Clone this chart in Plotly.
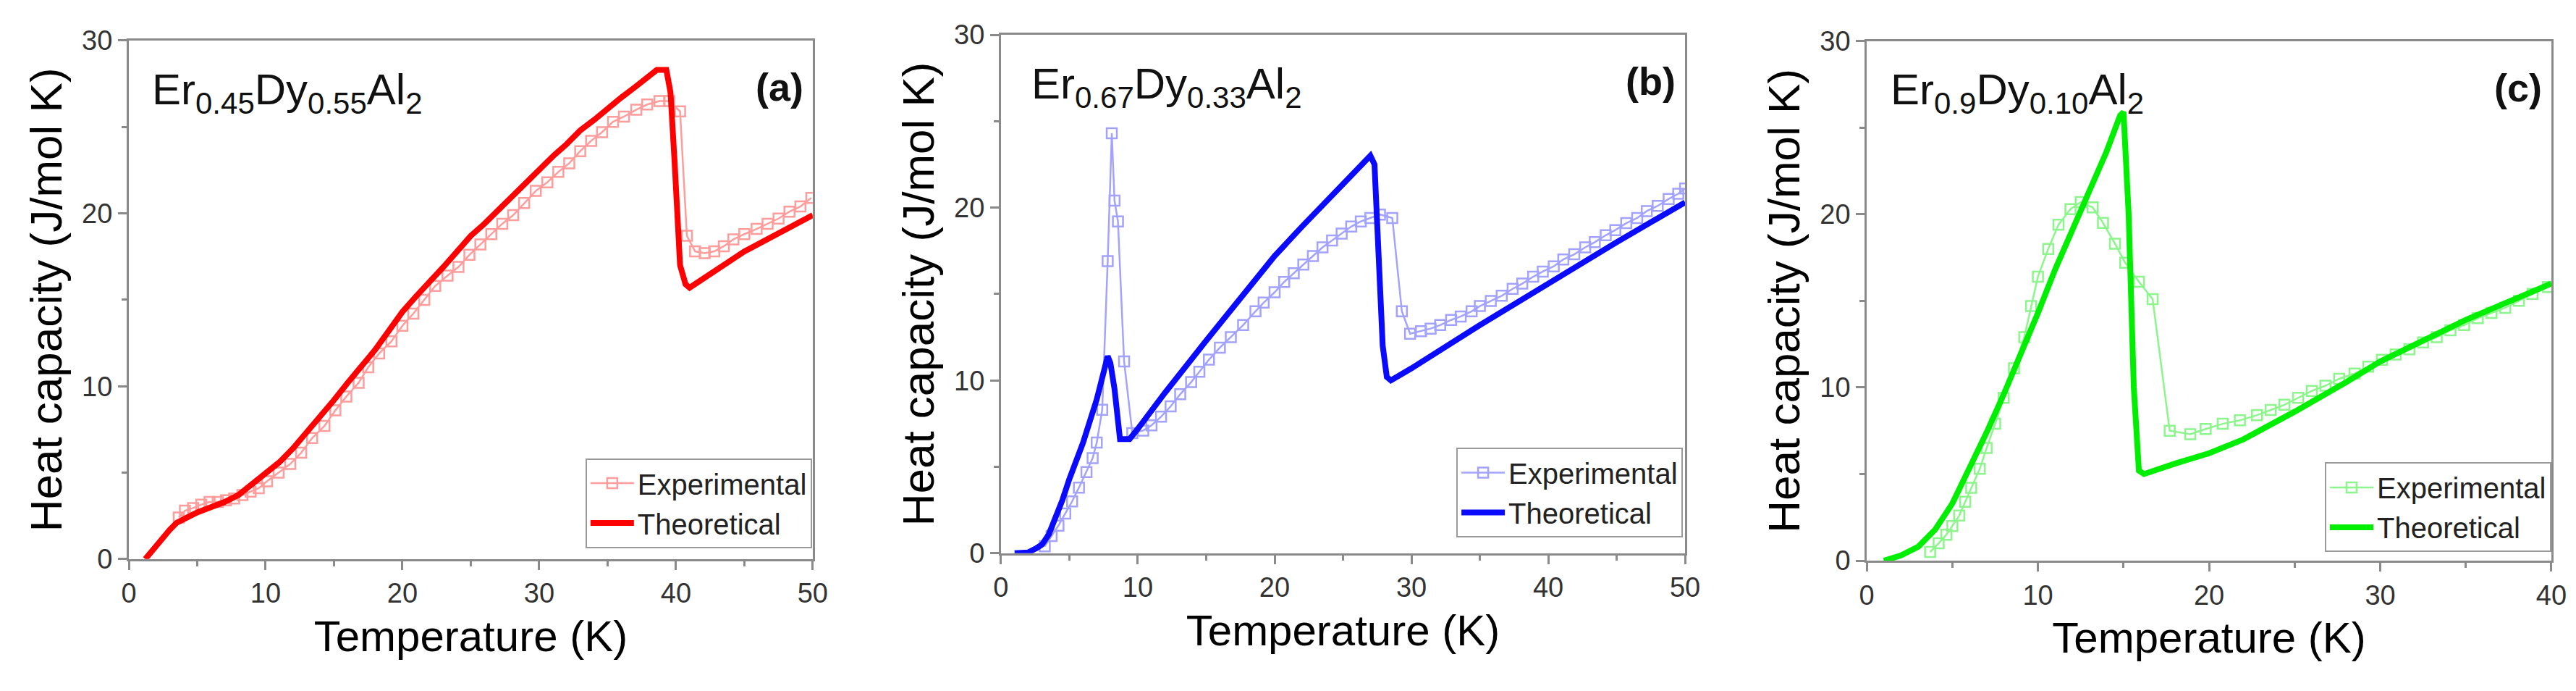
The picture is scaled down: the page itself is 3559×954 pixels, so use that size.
"""
Heat capacity of Er(1-x)Dy(x)Al2 compounds: experimental vs theoretical curves.
Three panels (a), (b), (c), one per composition.
"""

import plotly.graph_objects as go

# ---- panel (a): Er0.45Dy0.55Al2 ----
ta_exp = [3.65, 4.1, 4.7, 5.3, 5.9, 6.5, 7.1, 7.7, 8.3, 8.9, 9.5, 10.1, 10.95, 11.8, 12.6,
          13.4, 14.3, 15.1, 15.9, 16.8, 17.5, 18.3, 19.2, 20.0, 20.8, 21.6, 22.4, 23.3, 24.1,
          24.9, 25.7, 26.5, 27.3, 28.1, 28.9, 29.75, 30.6, 31.4, 32.2, 33.0, 33.8, 34.6, 35.4,
          36.2, 37.1, 37.9, 38.8, 39.5, 40.3, 40.8, 41.4, 42.1, 42.8, 43.5, 44.2, 45.0, 45.9,
          46.7, 47.5, 48.3, 49.1, 49.9]
ca_exp = [2.4, 2.8, 2.95, 3.15, 3.3, 3.3, 3.4, 3.5, 3.7, 3.9, 4.1, 4.5, 5.0, 5.5, 6.15,
          7.0, 7.7, 8.6, 9.4, 10.2, 11.1, 11.9, 12.6, 13.5, 14.2, 15.0, 15.8, 16.4, 16.9,
          17.6, 18.2, 18.8, 19.4, 19.9, 20.6, 21.3, 21.8, 22.4, 22.9, 23.6, 24.2, 24.7, 25.3,
          25.6, 26.0, 26.3, 26.5, 26.5, 25.9, 18.7, 17.8, 17.7, 17.8, 18.1, 18.5, 18.8, 19.1,
          19.4, 19.7, 20.1, 20.4, 20.9]
ta_th = [1.2, 2.0, 3.0, 3.5, 4.0, 5.0, 6.0, 7.0, 8.0, 9.0, 10.0, 11.0, 12.0, 13.0, 14.0,
         15.0, 16.0, 17.0, 18.0, 19.0, 20.0, 21.0, 22.0, 23.0, 24.0, 25.0, 26.0, 27.0, 28.0,
         29.0, 30.0, 31.0, 32.0, 33.0, 34.0, 35.0, 36.0, 37.0, 38.0, 38.6, 39.3, 39.6, 39.9,
         40.1, 40.3, 40.7, 41.0, 45.0, 50.0]
ca_th = [0.0, 0.8, 1.7, 2.1, 2.3, 2.7, 3.0, 3.3, 3.7, 4.3, 5.0, 5.6, 6.4, 7.3, 8.2,
         9.2, 10.2, 11.1, 12.1, 13.2, 14.3, 15.2, 16.0, 16.9, 17.8, 18.7, 19.4, 20.2, 21.0,
         21.8, 22.6, 23.3, 24.0, 24.8, 25.4, 26.1, 26.7, 27.3, 27.9, 28.3, 28.3, 27.0, 23.0,
         19.0, 17.0, 15.9, 15.7, 17.8, 19.9]

# ---- panel (b): Er0.67Dy0.33Al2 ----
tb_exp = [3.2, 3.7, 4.2, 4.7, 5.2, 5.7, 6.25, 6.7, 7.0, 7.4, 7.8, 8.1, 8.3, 8.55, 9.0,
          9.6, 10.4, 11.0, 11.7, 12.4, 13.1, 13.9, 14.5, 15.2, 16.0, 16.8, 17.7, 18.6, 19.2,
          20.0, 20.7, 21.4, 22.1, 22.8, 23.5, 24.2, 24.9, 25.6, 26.3, 27.0, 27.7, 28.6, 29.3,
          29.9, 30.7, 31.4, 32.1, 32.9, 33.6, 34.4, 35.0, 35.8, 36.6, 37.4, 38.1, 38.9, 39.6,
          40.4, 41.1, 41.9, 42.7, 43.4, 44.2, 44.9, 45.7, 46.5, 47.2, 48.0, 48.8, 49.5, 50.0]
cb_exp = [0.4, 1.0, 1.6, 2.3, 3.0, 3.8, 4.7, 5.5, 6.4, 8.3, 16.9, 24.3, 20.4, 19.2, 11.1,
          6.95, 7.1, 7.4, 7.9, 8.5, 9.2, 9.9, 10.5, 11.2, 11.9, 12.5, 13.2, 14.0, 14.5,
          15.1, 15.7, 16.2, 16.7, 17.2, 17.7, 18.1, 18.5, 18.9, 19.2, 19.4, 19.6, 19.4, 14.0,
          12.7, 12.85, 13.0, 13.2, 13.5, 13.7, 14.0, 14.3, 14.6, 14.9, 15.3, 15.6, 16.0, 16.3,
          16.6, 17.0, 17.3, 17.7, 18.0, 18.4, 18.7, 19.1, 19.4, 19.8, 20.1, 20.5, 20.8, 21.1]
tb_th = [1.0, 2.0, 2.6, 3.0, 3.5, 4.0, 4.5, 5.0, 6.0, 7.0, 7.8, 8.0, 8.3, 8.7, 9.4,
         10.0, 12.0, 15.0, 17.5, 20.0, 22.0, 24.0, 26.0, 27.0, 27.3, 27.6, 27.9, 28.2, 28.5,
         30.0, 35.0, 40.0, 45.0, 50.0]
cb_th = [0.0, 0.05, 0.3, 0.5, 1.1, 2.0, 3.1, 4.3, 6.4, 8.9, 11.4, 11.0, 9.5, 6.6, 6.6,
         7.2, 9.3, 12.3, 14.8, 17.2, 18.9, 20.5, 22.2, 23.0, 22.5, 18.0, 12.0, 10.2, 10.0,
         10.7, 13.2, 15.6, 18.0, 20.3]

# ---- panel (c): Er0.9Dy0.10Al2 ----
tc_exp = [3.7, 4.2, 4.65, 5.0, 5.4, 5.75, 6.1, 6.6, 7.0, 7.5, 8.0, 8.6, 9.2, 9.6, 10.0,
          10.6, 11.2, 11.9, 12.5, 13.2, 13.8, 14.5, 15.1, 15.9, 16.7, 17.7, 18.9, 19.8, 20.8,
          21.8, 22.8, 23.6, 24.4, 25.2, 26.0, 26.8, 27.6, 28.5, 29.3, 30.1, 30.9, 31.7, 32.5,
          33.3, 34.1, 34.9, 35.7, 36.5, 37.3, 38.1, 38.9, 39.8]
cc_exp = [0.5, 1.0, 1.5, 2.0, 2.6, 3.4, 4.2, 5.3, 6.5, 7.9, 9.4, 11.1, 12.9, 14.7, 16.4,
          18.0, 19.4, 20.3, 20.7, 20.4, 19.5, 18.3, 17.2, 16.1, 15.1, 7.5, 7.3, 7.6, 7.9,
          8.1, 8.4, 8.7, 9.0, 9.4, 9.8, 10.1, 10.5, 10.8, 11.2, 11.6, 11.9, 12.2, 12.6,
          12.9, 13.3, 13.6, 14.0, 14.3, 14.6, 15.0, 15.4, 15.8]
tc_th = [1.0, 2.0, 3.0, 4.0, 5.0, 6.0, 7.0, 8.0, 9.0, 10.0, 11.0, 12.0, 13.0, 14.0, 14.8,
         15.0, 15.3, 15.6, 15.9, 16.2, 18.0, 20.0, 22.0, 25.0, 28.0, 30.0, 35.0, 40.0]
cc_th = [0.0, 0.3, 0.8, 1.8, 3.3, 5.3, 7.4, 9.6, 11.9, 14.3, 16.8, 19.1, 21.4, 23.6, 25.7,
         25.9, 20.0, 10.0, 5.2, 5.0, 5.6, 6.2, 7.0, 8.6, 10.3, 11.5, 13.9, 16.0]

compositions = ["Er<sub>0.45</sub>Dy<sub>0.55</sub>Al<sub>2</sub>",
                "Er<sub>0.67</sub>Dy<sub>0.33</sub>Al<sub>2</sub>",
                "Er<sub>0.9</sub>Dy<sub>0.10</sub>Al<sub>2</sub>"]
panel_labels = ["(a)", "(b)", "(c)"]
x_max = [50, 50, 40]

FONT = "Arial, Liberation Sans, sans-serif"
AXIS_GREY = "#8a8a8a"

panels = [
    (ta_exp, ca_exp, ta_th, ca_th, "#ff9c9c", "#ff0000"),
    (tb_exp, cb_exp, tb_th, cb_th, "#a3a3ff", "#0a0aff"),
    (tc_exp, cc_exp, tc_th, cc_th, "#8cf58c", "#00ee00"),
]
# subplot placement (the middle panel sits a few px higher in the original)
x_domains = [[0.0, 0.2823], [0.36, 0.6424], [0.7174, 1.0]]
y_domains = [[0.003, 0.989], [0.014, 1.0], [0.0, 0.988]]
legend_pos = [(0.282, 0.024), (0.6415, 0.044), (1.0, 0.016)]
text_x = [0.032, 0.042, 0.033]

fig = go.Figure()

for i, (t_exp, c_exp, t_th, c_th, c_light, c_dark) in enumerate(panels):
    n = "" if i == 0 else str(i + 1)
    leg = "legend" + n
    fig.add_trace(go.Scatter(
        x=t_exp, y=c_exp, mode="lines+markers", name="Experimental",
        line=dict(color=c_light, width=2.5),
        marker=dict(symbol="square-open", size=14, color=c_light, line=dict(width=2.5)),
        xaxis="x" + n, yaxis="y" + n, legend=leg,
    ))
    fig.add_trace(go.Scatter(
        x=t_th, y=c_th, mode="lines", name="Theoretical",
        line=dict(color=c_dark, width=8),
        xaxis="x" + n, yaxis="y" + n, legend=leg,
    ))

    axis_common = dict(
        showline=True, linecolor=AXIS_GREY, linewidth=3, mirror=True,
        ticks="outside", ticklen=12, tickwidth=3, tickcolor=AXIS_GREY,
        showgrid=False, zeroline=False,
        tickfont=dict(size=38, color="#333333", family=FONT),
        minor=dict(ticks="outside", ticklen=7, tickwidth=3, tickcolor=AXIS_GREY, dtick=5),
    )
    fig.update_layout({
        "xaxis" + n: dict(
            axis_common, domain=x_domains[i], range=[0, x_max[i]], dtick=10,
            anchor="y" + n,
            title=dict(text="Temperature (K)", font=dict(size=60, color="black", family=FONT),
                       standoff=18),
        ),
        "yaxis" + n: dict(
            axis_common, domain=y_domains[i], range=[0, 30], dtick=10, anchor="x" + n,
            title=dict(text="Heat capacity (J/mol K)",
                       font=dict(size=62, color="black", family=FONT), standoff=8),
        ),
        leg: dict(
            x=legend_pos[i][0], y=legend_pos[i][1], xanchor="right", yanchor="bottom",
            bgcolor="white", bordercolor="#9a9a9a", borderwidth=2,
            font=dict(size=40, color="#222222", family=FONT),
            itemwidth=60, entrywidth=330, entrywidthmode="pixels", tracegroupgap=0,
        ),
    })

    # composition label and panel letter
    fig.add_annotation(
        text=compositions[i], xref="x" + n + " domain", yref="y" + n + " domain",
        x=text_x[i], y=0.90, xanchor="left", yanchor="middle", showarrow=False,
        font=dict(size=60, color="#111111", family=FONT),
    )
    fig.add_annotation(
        text="<b>" + panel_labels[i] + "</b>", xref="x" + n + " domain",
        yref="y" + n + " domain", x=0.988, y=0.91, xanchor="right", yanchor="middle",
        showarrow=False, font=dict(size=54, color="#111111", family=FONT),
    )

fig.update_layout(
    width=3559, height=954,
    margin=dict(l=170, r=42, t=40, b=188),
    paper_bgcolor="white", plot_bgcolor="white",
    font=dict(family=FONT),
)

fig.write_html("out.html")
